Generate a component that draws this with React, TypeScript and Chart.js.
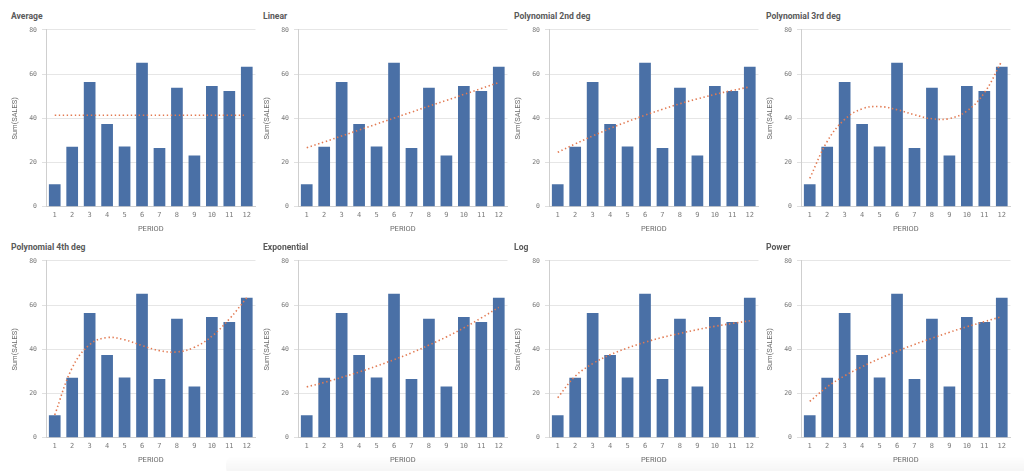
import React, { useEffect, useRef } from "react";
import { Chart, registerables } from "chart.js";

Chart.register(...registerables);

const periods = ["1", "2", "3", "4", "5", "6", "7", "8", "9", "10", "11", "12"];
const sales = [10.2, 27.1, 56.4, 37.4, 27.2, 65.1, 26.6, 53.8, 23.2, 54.6, 52.3, 63.3];

const trendAverage = [41.4, 41.4, 41.4, 41.4, 41.4, 41.4, 41.4, 41.4, 41.4, 41.4, 41.4, 41.4];
const trendLinear = [26.7, 29.3, 32.0, 34.7, 37.4, 40.1, 42.8, 45.5, 48.1, 50.8, 53.5, 56.2];
const trendPoly2 = [24.6, 28.4, 32.0, 35.4, 38.5, 41.4, 44.1, 46.6, 48.8, 50.8, 52.6, 54.2];
const trendPoly3 = [12.8, 29.5, 39.5, 44.3, 45.3, 43.9, 41.6, 39.8, 39.9, 43.3, 51.5, 65.9];
const trendPoly4 = [10.3, 31.6, 42.1, 45.3, 44.3, 41.7, 39.4, 38.8, 40.9, 45.9, 53.7, 63.3];
const trendExponential = [23.0, 25.0, 27.3, 29.7, 32.4, 35.3, 38.4, 41.9, 45.6, 49.7, 54.2, 59.0];
const trendLog = [18.1, 27.8, 33.5, 37.5, 40.6, 43.2, 45.4, 47.2, 48.9, 50.4, 51.7, 52.9];
const trendPower = [16.4, 23.0, 28.0, 32.1, 35.8, 39.1, 42.2, 45.0, 47.7, 50.2, 52.5, 54.8];

const panelTitles = [
  "Average", "Linear", "Polynomial 2nd deg", "Polynomial 3rd deg",
  "Polynomial 4th deg", "Exponential", "Log", "Power",
];
const panelTrends = [
  trendAverage, trendLinear, trendPoly2, trendPoly3,
  trendPoly4, trendExponential, trendLog, trendPower,
];

const yMin = 0;
const yMax = 80;
const yStep = 20;
const xTitle = "PERIOD";
const yTitle = "Sum(SALES)";

const BAR_COLOR = "#4a70a6";
const TREND_COLOR = "#e27a52";

const PLOT_LEFTS = [46, 298, 549, 801];
const ROW_TOPS = [0, 231];
const Y_AXIS_W = 42;
const CANVAS_W = 254;
const CANVAS_H = 213;

function Panel({ title, trend, left, top }: { title: string; trend: number[]; left: number; top: number }) {
  const ref = useRef<HTMLCanvasElement | null>(null);
  useEffect(() => {
    if (!ref.current) return;
    const chart = new Chart(ref.current, {
      type: "bar",
      data: {
        labels: periods,
        datasets: [
          {
            type: "line",
            data: trend,
            borderColor: TREND_COLOR,
            borderWidth: 1.6,
            borderDash: [1.4, 2.6],
            pointRadius: 0,
            tension: 0.4,
            fill: false,
            order: 0,
          } as any,
          {
            type: "bar",
            data: sales,
            backgroundColor: BAR_COLOR,
            categoryPercentage: 1,
            barPercentage: 0.67,
            order: 1,
          } as any,
        ],
      },
      options: {
        responsive: false,
        animation: false,
        maintainAspectRatio: false,
        layout: { padding: { top: 0, right: CANVAS_W - Y_AXIS_W - 209.5, left: 0, bottom: 0 } },
        plugins: { legend: { display: false }, tooltip: { enabled: false } },
        scales: {
          x: {
            grid: { display: false, drawTicks: false, tickLength: 0 },
            border: { display: true, color: "#cfcfcf" },
            ticks: {
              color: "#7a7a7a",
              padding: 4,
              maxRotation: 0,
              autoSkip: false,
              font: { family: "DejaVu Sans Mono", size: 7 },
            },
            title: {
              display: true,
              text: xTitle,
              color: "#6a6a6a",
              padding: { top: 0, bottom: 0 },
              font: { family: "Roboto", size: 7.5 },
            },
            afterFit: (s: any) => { s.height = 27.3; },
          },
          y: {
            min: yMin,
            max: yMax,
            ticks: {
              stepSize: yStep,
              color: "#7a7a7a",
              padding: 5,
              font: { family: "DejaVu Sans Mono", size: 6.5 },
            },
            grid: { color: "#e6e6e6", tickLength: 4, tickColor: "#e0e0e0" },
            border: { display: true, color: "#cfcfcf" },
            title: {
              display: true,
              text: yTitle,
              color: "#6a6a6a",
              padding: { top: 7, bottom: 0 },
              font: { family: "Roboto", size: 7.5 },
            },
            afterFit: (s: any) => { s.width = Y_AXIS_W; },
          },
        },
      } as any,
    });
    return () => chart.destroy();
  }, [trend]);

  return (
    <>
      <div
        style={{
          position: "absolute",
          left: left - 35,
          top: top + 11,
          fontFamily: "Roboto",
          fontWeight: 700,
          fontSize: "8.6px",
          lineHeight: "11px",
          color: "#5a5a5a",
          whiteSpace: "nowrap",
        }}
      >
        {title}
      </div>
      <canvas
        ref={ref}
        width={CANVAS_W}
        height={CANVAS_H}
        style={{
          position: "absolute",
          left: left - Y_AXIS_W,
          top: top + 21,
          width: CANVAS_W,
          height: CANVAS_H,
          display: "block",
        }}
      />
    </>
  );
}

export default function App() {
  return (
    <div
      style={{
        position: "fixed",
        left: 0,
        top: 0,
        width: 1024,
        height: 471,
        background: "#ffffff",
        overflow: "hidden",
      }}
    >
      {panelTitles.map((t, i) => (
        <Panel
          key={t}
          title={t}
          trend={panelTrends[i]}
          left={PLOT_LEFTS[i % 4]}
          top={ROW_TOPS[Math.floor(i / 4)]}
        />
      ))}
      <div
        style={{
          position: "absolute",
          left: 226,
          top: 456,
          width: 800,
          height: 20,
          borderRadius: 8,
          background: "linear-gradient(to bottom, rgba(0,0,0,0), rgba(0,0,0,0.05))",
        }}
      />
    </div>
  );
}
